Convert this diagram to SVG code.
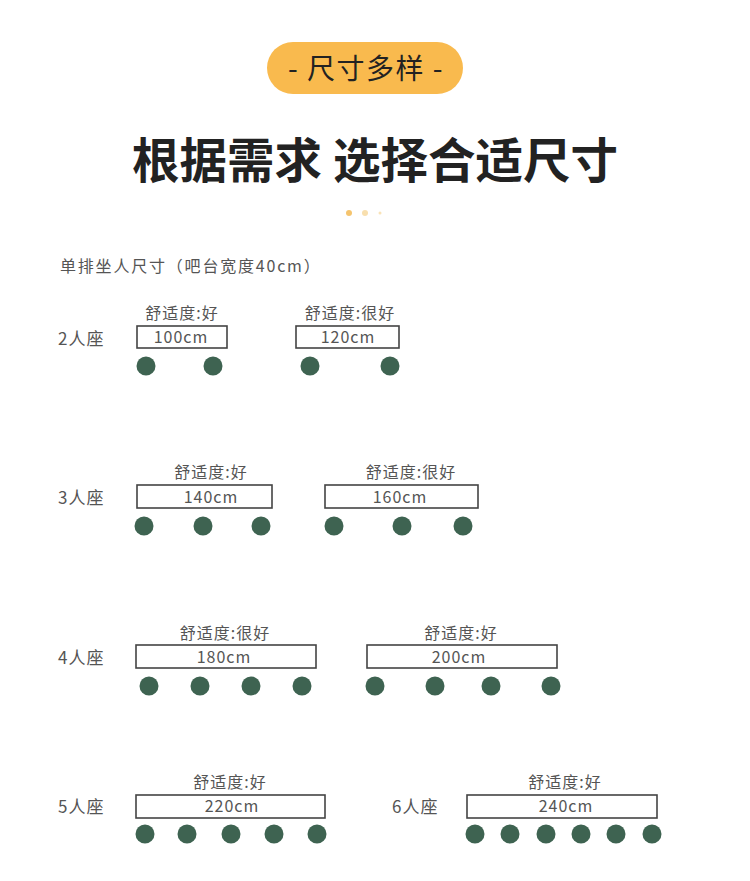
<svg xmlns="http://www.w3.org/2000/svg" width="750" height="881" viewBox="0 0 750 881">
<style>
text{font-family:"Noto Sans CJK SC","Liberation Sans",sans-serif;fill:#555}
.lab{font-size:16px;letter-spacing:1px;text-anchor:middle}
.sz{font-size:16px;letter-spacing:1px;text-anchor:middle}
.seat{font-size:17px;letter-spacing:1px}
.bar{fill:#fff;stroke:#444;stroke-width:1.6}
.c{fill:#3e6351}
</style>
<rect width="750" height="881" fill="#fff"/>
<g id="header">
<rect x="267" y="42" width="196" height="52" rx="26" fill="#f9ba4e"/>
<text x="366" y="79" style="font-size:28px;letter-spacing:1.5px;fill:#222;text-anchor:middle">- 尺寸多样 -</text>
<text x="375" y="178" style="font-size:47.5px;font-weight:bold;fill:#222;text-anchor:middle">根据需求 选择合适尺寸</text>
<circle cx="349" cy="213" r="3" fill="#f2b54a" opacity="0.8"/>
<circle cx="365" cy="213" r="3" fill="#f6d79a" opacity="0.8"/>
<circle cx="380" cy="213" r="1.5" fill="#f6d79a" opacity="0.7"/>
<text x="60" y="272" style="font-size:16px;letter-spacing:1.8px">单排坐人尺寸（吧台宽度40cm）</text>
</g>
<g id="row2">
<text class="seat" x="58" y="345">2人座</text>
<g id="bar100">
<text class="lab" x="182" y="319">舒适度:好</text>
<rect class="bar" x="137" y="326" width="90" height="22"/>
<text class="sz" x="181" y="343">100cm</text>
<circle class="c" cx="146" cy="366" r="9.5"/><circle class="c" cx="213" cy="366" r="9.5"/>
</g>
<g id="bar120">
<text class="lab" x="350" y="319">舒适度:很好</text>
<rect class="bar" x="296" y="326" width="103" height="22"/>
<text class="sz" x="348" y="343">120cm</text>
<circle class="c" cx="310" cy="366" r="9.5"/><circle class="c" cx="390" cy="366" r="9.5"/>
</g>
</g>
<g id="row3">
<text class="seat" x="58" y="504">3人座</text>
<g id="bar140">
<text class="lab" x="211" y="478">舒适度:好</text>
<rect class="bar" x="137" y="485" width="135" height="23"/>
<text class="sz" x="211" y="503">140cm</text>
<circle class="c" cx="144" cy="526" r="9.5"/><circle class="c" cx="203" cy="526" r="9.5"/><circle class="c" cx="261" cy="526" r="9.5"/>
</g>
<g id="bar160">
<text class="lab" x="411" y="478">舒适度:很好</text>
<rect class="bar" x="325" y="485" width="153" height="23"/>
<text class="sz" x="400" y="503">160cm</text>
<circle class="c" cx="334" cy="526" r="9.5"/><circle class="c" cx="402" cy="526" r="9.5"/><circle class="c" cx="463" cy="526" r="9.5"/>
</g>
</g>
<g id="row4">
<text class="seat" x="58" y="664">4人座</text>
<g id="bar180">
<text class="lab" x="225" y="639">舒适度:很好</text>
<rect class="bar" x="136" y="645" width="180" height="23"/>
<text class="sz" x="224" y="663">180cm</text>
<circle class="c" cx="149" cy="686" r="9.5"/><circle class="c" cx="200" cy="686" r="9.5"/><circle class="c" cx="251" cy="686" r="9.5"/><circle class="c" cx="302" cy="686" r="9.5"/>
</g>
<g id="bar200">
<text class="lab" x="461" y="639">舒适度:好</text>
<rect class="bar" x="367" y="645" width="190" height="23"/>
<text class="sz" x="459" y="663">200cm</text>
<circle class="c" cx="375" cy="686" r="9.5"/><circle class="c" cx="435" cy="686" r="9.5"/><circle class="c" cx="491" cy="686" r="9.5"/><circle class="c" cx="551" cy="686" r="9.5"/>
</g>
</g>
<g id="row5">
<text class="seat" x="58" y="813">5人座</text>
<g id="bar220">
<text class="lab" x="230" y="788">舒适度:好</text>
<rect class="bar" x="136" y="795" width="189" height="23"/>
<text class="sz" x="232" y="812">220cm</text>
<circle class="c" cx="145" cy="834" r="9.5"/><circle class="c" cx="187" cy="834" r="9.5"/><circle class="c" cx="231" cy="834" r="9.5"/><circle class="c" cx="274" cy="834" r="9.5"/><circle class="c" cx="317" cy="834" r="9.5"/>
</g>
<text class="seat" x="392" y="813">6人座</text>
<g id="bar240">
<text class="lab" x="565" y="788">舒适度:好</text>
<rect class="bar" x="467" y="795" width="190" height="23"/>
<text class="sz" x="566" y="812">240cm</text>
<circle class="c" cx="475" cy="834" r="9.5"/><circle class="c" cx="510" cy="834" r="9.5"/><circle class="c" cx="546" cy="834" r="9.5"/><circle class="c" cx="581" cy="834" r="9.5"/><circle class="c" cx="616" cy="834" r="9.5"/><circle class="c" cx="652" cy="834" r="9.5"/>
</g>
</g>
<g id="connectors"></g>
</svg>
